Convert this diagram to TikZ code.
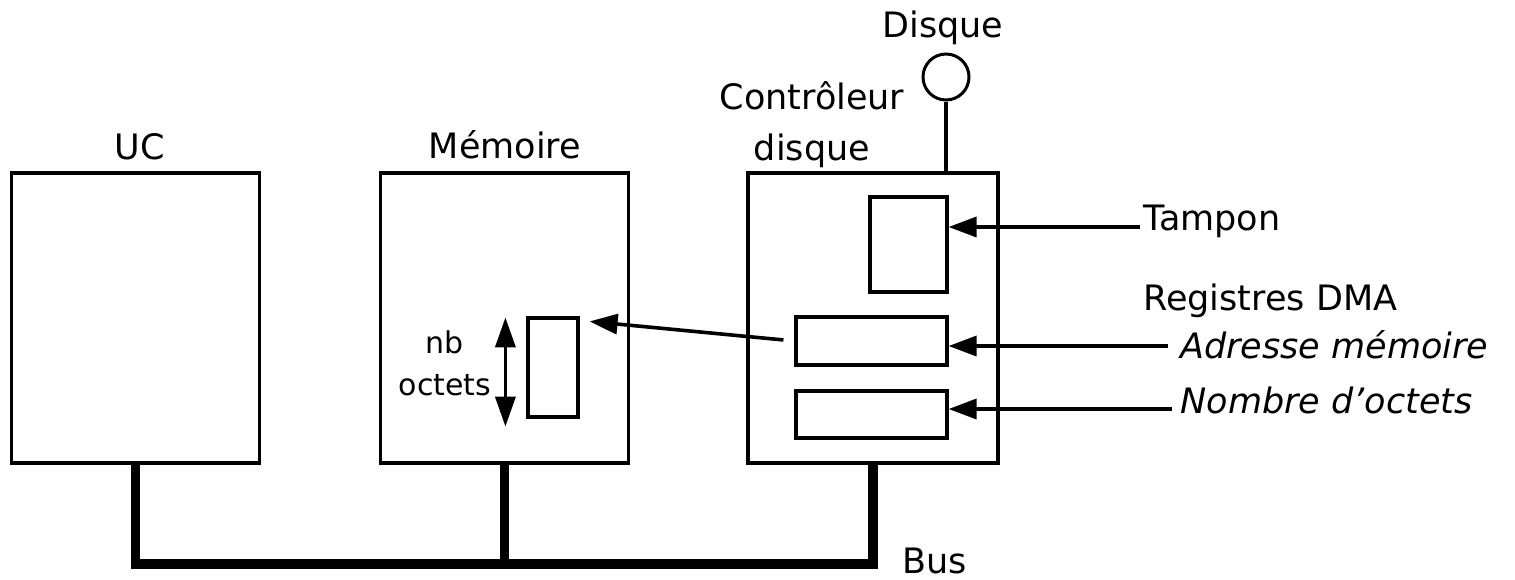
\documentclass[tikz,border=0pt]{standalone}
\usepackage{fontspec}
\setmainfont{DejaVu Sans}
\usetikzlibrary{arrows.meta,positioning,calc}

\begin{document}
\begin{tikzpicture}[
  x=0.5pt, y=-0.5pt,
  line/.style={draw=black, line width=1.8pt},
  arrow/.style={-{Triangle[length=14pt,width=10pt]}, draw=black, line width=1.8pt},
  dblarrow/.style={{Triangle[length=15pt,width=10pt]}-{Triangle[length=15pt,width=10pt]}, draw=black, line width=1.8pt},
  bus/.style={draw=black, line width=4.8pt},
  unit/.style={line, minimum width=124pt, minimum height=145pt, inner sep=0pt},
  reg/.style={draw=black, line width=1.6pt, inner sep=0pt},
  note/.style={inner sep=0pt, font=\fontsize{17.5}{21}\selectfont}
]
\useasboundingbox (0,0) rectangle (1515,579);

\node[unit] (uc) at (135.5,318) {};
\node[unit] (mem) at (504.5,318) {};
\node[unit, minimum width=125pt] (ctrl) at (873,318) {};

\node[note, anchor=base] (uclbl) at (140,159) {UC};
\node[note, anchor=base] (memlbl) at (505,158) {Mémoire};
\node[note, align=center, font=\fontsize{17.5}{25.5}\selectfont] (ctrllbl) at (812,125) {Contrôleur\\disque};

\node[draw=black, line width=1.5pt, circle, minimum size=23pt, inner sep=0pt] (disk) at (946,77) {};
\node[note, anchor=base] (disklbl) at (943,37) {Disque};
\draw[line] (disk.south) -- (disk.south |- ctrl.north);

\node[reg, minimum width=38.5pt, minimum height=47.5pt] (tampon) at (908.5,244.5) {};
\node[reg, minimum width=75.5pt, minimum height=24pt] (regadr) at (871.5,341) {};
\node[reg, minimum width=75.5pt, minimum height=23.5pt] (regnb) at (871.5,414.5) {};
\node[reg, minimum width=25pt, minimum height=49.5pt] (memslot) at (553,367.5) {};

\node[note, anchor=base west] (tamponlbl) at (1143,230) {Tampon};
\node[note, anchor=base west] (dmalbl) at (1143,310) {Registres DMA};
\node[note, anchor=base west] (adrlbl) at (1180,358) {\itshape Adresse mémoire};
\node[note, anchor=base west] (nblbl) at (1180,413) {\itshape Nombre d'octets};

\coordinate (tamponend) at (1140,227);
\coordinate (adrend) at (1168,346);
\coordinate (nbend) at (1172,409);
\draw[arrow] (tamponend) -- (tamponend -| tampon.east);
\draw[arrow] (adrend) -- (adrend -| regadr.east);
\draw[arrow] (nbend) -- (nbend -| regnb.east);

\draw[arrow, shorten <=5.5pt] (regadr.west) -- ($(memslot.north east)+(10,5)$);
\draw[dblarrow] ($(memslot.north west)+(-21,1)$) -- ($(memslot.south west)+(-21,8)$);
\node[note, align=center, font=\fontsize{15}{21}\selectfont] (nblbl2) at (445,363) {nb\\octets};

\draw[bus] (uc.south) -- ++(0,99) coordinate (busleft) -| (ctrl.south);
\draw[bus] (mem.south) -- (mem.south |- busleft);
\node[note, anchor=base west] (buslbl) at (902,573) {Bus};

\end{tikzpicture}
\end{document}
